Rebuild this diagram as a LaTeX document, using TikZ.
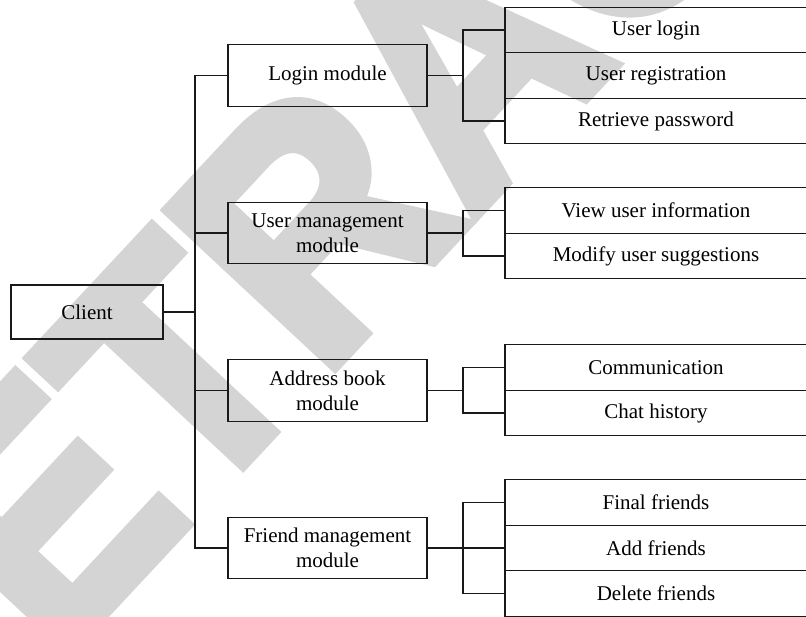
\documentclass[tikz,border=0pt]{standalone}
\usepackage{fontspec}
\setmainfont{Liberation Serif}
\newfontfamily\wmfont[FakeBold=4]{Liberation Sans Bold}
\begin{document}
\begin{tikzpicture}[x=1pt,y=-1pt,
  every node/.style={font=\fontsize{21}{25}\selectfont, align=center, inner sep=0pt},
  box/.style={draw=black!90, line width=1.1pt},
  modbox/.style={box, minimum width=199pt, minimum height=61.5pt},
  leaf/.style={box, minimum width=302pt, minimum height=45.5pt},
  link/.style={draw=black!90, line width=1.1pt}]
\useasboundingbox (0,0) rectangle (806,616);
% watermark
\node[rotate=47, xscale=0.92, text=black!17, font=\wmfont\fontsize{330}{330}\selectfont] (wm) at (462,62) {RETRACTED};
% client
\node[box, minimum width=152pt, minimum height=54pt] (client) at (87,312) {Client};
% modules
\node[modbox] (login) at (327.5,75.5) {Login module};
\node[modbox] (user) at (327.5,233) {User management\\module};
\node[modbox] (addr) at (327.5,390.5) {Address book\\module};
\node[modbox] (friend) at (327.5,548) {Friend management\\module};
% leaves
\node[leaf] (l1) at (656,30) {User login};
\node[leaf] (l2) at (656,75.5) {User registration};
\node[leaf] (l3) at (656,121) {Retrieve password};
\node[leaf] (u1) at (656,210.5) {View user information};
\node[leaf] (u2) at (656,256) {Modify user suggestions};
\node[leaf] (a1) at (656,367.5) {Communication};
\node[leaf] (a2) at (656,413) {Chat history};
\node[leaf] (f1) at (656,502.5) {Final friends};
\node[leaf] (f2) at (656,548) {Add friends};
\node[leaf] (f3) at (656,593.5) {Delete friends};
% connectors
\coordinate (trunk) at (195,0);
\coordinate (brk) at (463,0);
\draw[link] (client.east) -- (client.east -| trunk);
\draw[link] (login.west) -- (login.west -| trunk) -- (friend.west -| trunk) -- (friend.west);
\draw[link] (user.west) -- (user.west -| trunk);
\draw[link] (addr.west) -- (addr.west -| trunk);
% login bracket
\draw[link] (login.east) -- (login.east -| brk);
\draw[link] (l1.west) -- (l1.west -| brk) -- (l3.west -| brk) -- (l3.west);
% user bracket
\draw[link] (user.east) -- (user.east -| brk);
\draw[link] (u1.west) -- (u1.west -| brk) -- (u2.west -| brk) -- (u2.west);
% address bracket
\draw[link] (addr.east) -- (addr.east -| brk);
\draw[link] (a1.west) -- (a1.west -| brk) -- (a2.west -| brk) -- (a2.west);
% friend bracket
\draw[link] (friend.east) -- (f2.west);
\draw[link] (f1.west) -- (f1.west -| brk) -- (f3.west -| brk) -- (f3.west);
\end{tikzpicture}
\end{document}
